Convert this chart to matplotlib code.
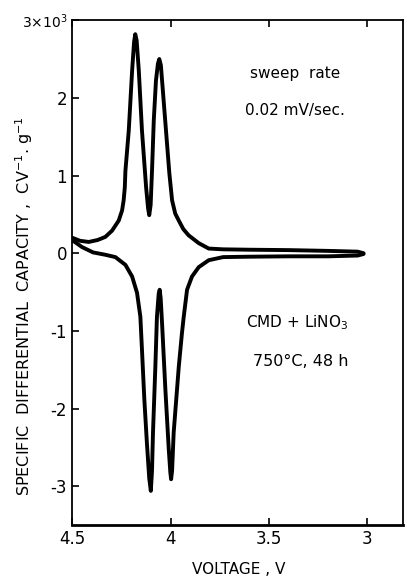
import numpy as np
import matplotlib.pyplot as plt

# charge (anodic) branch: voltage (V) and capacity (x10^3 C/V/g)
v_up = [4.50, 4.46, 4.415, 4.37, 4.331, 4.297, 4.263, 4.246, 4.238, 4.232, 4.229,
        4.212, 4.195, 4.185, 4.179, 4.172, 4.161, 4.145, 4.124, 4.114, 4.108,
        4.101, 4.094, 4.085, 4.074, 4.064, 4.057, 4.049, 4.040, 4.023, 4.006,
        3.992, 3.976, 3.958, 3.935, 3.908, 3.857, 3.806, 3.733, 3.60, 3.40,
        3.20, 3.05, 3.02]
c_up = [0.20, 0.16, 0.145, 0.17, 0.21, 0.29, 0.42, 0.55, 0.68, 0.85, 1.06,
        1.58, 2.35, 2.72, 2.82, 2.74, 2.35, 1.58, 0.85, 0.58, 0.49,
        0.62, 1.06, 1.71, 2.22, 2.44, 2.50, 2.42, 2.13, 1.58, 1.03,
        0.68, 0.51, 0.42, 0.31, 0.23, 0.13, 0.06, 0.05, 0.045, 0.04,
        0.03, 0.02, 0.0]

# discharge (cathodic) branch
v_dn = [4.50, 4.45, 4.393, 4.331, 4.280, 4.229, 4.195, 4.170, 4.153, 4.145,
        4.133, 4.12, 4.108, 4.100, 4.094, 4.089, 4.077, 4.069, 4.060, 4.055,
        4.050, 4.043, 4.026, 4.009, 4.001, 3.997, 3.992, 3.984, 3.958, 3.942,
        3.933, 3.916, 3.891, 3.857, 3.806, 3.733, 3.60, 3.40, 3.20, 3.05, 3.02]
c_dn = [0.17, 0.08, 0.01, -0.02, -0.05, -0.15, -0.30, -0.51, -0.82, -1.24,
        -1.88, -2.44, -2.90, -3.06, -2.80, -2.31, -1.46, -0.82, -0.52, -0.47,
        -0.58, -0.90, -1.76, -2.52, -2.82, -2.91, -2.80, -2.31, -1.46, -1.03,
        -0.82, -0.47, -0.30, -0.18, -0.09, -0.05, -0.045, -0.04, -0.04, -0.03, -0.01]

x_ticks = [4.5, 4, 3.5, 3]
x_labels = ['4.5', '4', '3.5', '3']
y_ticks = [-3, -2, -1, 0, 1, 2, 3]
y_labels = ['-3', '-2', '-1', '0', '1', '2', '3\u00d710$^3$']

fig = plt.figure(figsize=(4.07, 5.77), dpi=100)
ax = fig.add_axes([0.177, 0.090, 0.813, 0.875])

ax.plot(v_up, c_up, color='black', lw=2.8, solid_capstyle='round', solid_joinstyle='round')
ax.plot(v_dn, c_dn, color='black', lw=2.8, solid_capstyle='round', solid_joinstyle='round')

ax.set_xlim(4.5, 2.82)
ax.set_ylim(-3.5, 3)
ax.set_xticks(x_ticks, x_labels, fontsize=12)
ax.set_yticks(y_ticks, y_labels, fontsize=12)
ax.get_yticklabels()[-1].set_fontsize(10)
ax.tick_params(direction='in', length=5, width=1.2, top=True, right=False)
for s in ax.spines.values():
    s.set_linewidth(1.3)
ax.spines['bottom'].set_linewidth(2)

fig.text(0.587, 0.013, 'VOLTAGE , V', fontsize=11, ha='center', va='center')
fig.text(0.06, 0.47, 'SPECIFIC  DIFFERENTIAL  CAPACITY ,  CV$^{-1}$. g$^{-1}$',
         rotation=90, fontsize=11.5, ha='center', va='center')

ax.text(0.674, 0.895, 'sweep  rate', transform=ax.transAxes, fontsize=11, ha='center', va='center')
ax.text(0.674, 0.822, '0.02 mV/sec.', transform=ax.transAxes, fontsize=11, ha='center', va='center')
ax.text(0.68, 0.40, 'CMD + LiNO$_3$', transform=ax.transAxes, fontsize=11, ha='center', va='center')
ax.text(0.69, 0.323, '750\u00b0C, 48 h', transform=ax.transAxes, fontsize=11.5, ha='center', va='center')

fig.savefig('out.png', dpi=100)
